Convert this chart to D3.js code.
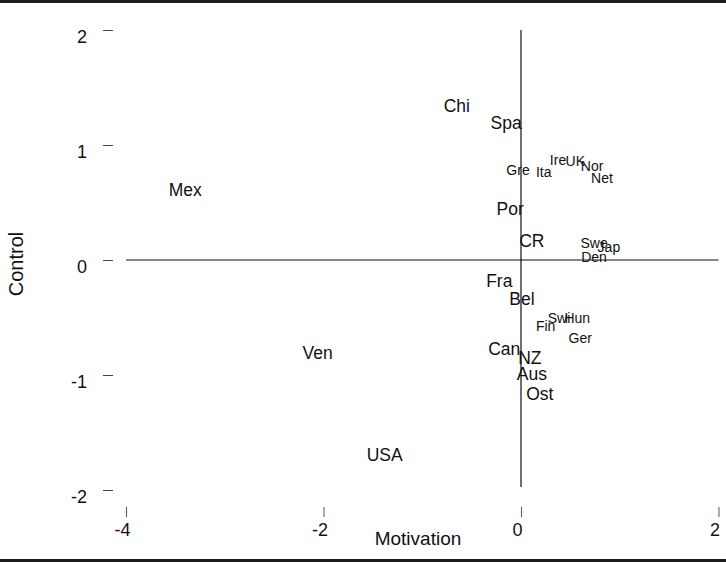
<!DOCTYPE html>
<html>
<head>
<meta charset="utf-8">
<script src="https://cdn.jsdelivr.net/npm/d3@7"></script>
<style>
  html, body { margin: 0; padding: 0; background: #fff; }
  svg { display: block; font-family: "Liberation Sans", Arial, sans-serif; }
</style>
</head>
<body>
<svg id="chart" width="726" height="562"></svg>
<script>
// country codes and their scores
var countries  = ["Chi", "Spa", "Gre", "Ita", "Ire", "UK", "Nor", "Net", "Mex", "Por", "CR", "Swe", "Jap", "Den",
                  "Fra", "Bel", "Swi", "Hun", "Fin", "Ger", "Can", "NZ", "Aus", "Ost", "Ven", "USA"];
var motivation = [-0.65, -0.15, -0.03, 0.23, 0.375, 0.55, 0.72, 0.82, -3.40, -0.11, 0.11, 0.74, 0.89, 0.74,
                  -0.22, 0.01, 0.385, 0.57, 0.25, 0.60, -0.17, 0.09, 0.11, 0.19, -2.06, -1.38];
var control    = [1.34, 1.19, 0.78, 0.765, 0.87, 0.86, 0.82, 0.71, 0.61, 0.45, 0.17, 0.15, 0.11, 0.03,
                  -0.18, -0.34, -0.50, -0.50, -0.57, -0.68, -0.77, -0.85, -0.99, -1.16, -0.81, -1.69];
// labels printed in the smaller type
var smallLabels = ["Gre", "Ita", "Ire", "UK", "Nor", "Net", "Swe", "Jap", "Den", "Swi", "Hun", "Fin", "Ger"];

var xTicks = [-4, -2, 0, 2];
var yTicks = [2, 1, 0, -1, -2];

var svg = d3.select("#chart"),
    W = 726, H = 562;

var x = d3.scaleLinear().domain([-4, 2]).range([126, 718.5]),
    y = d3.scaleLinear().domain([-2, 2]).range([490, 30]);

function plain(d) { return String(d); }

// frame lines top and bottom
svg.append("rect").attr("x", 0).attr("y", 0).attr("width", W).attr("height", 3).attr("fill", "#1c1c1c");
svg.append("rect").attr("x", 0).attr("y", H - 3).attr("width", W).attr("height", 3).attr("fill", "#1c1c1c");

// axes through the origin
svg.append("line")
  .attr("x1", x(-4)).attr("x2", x(2))
  .attr("y1", y(0)).attr("y2", y(0))
  .attr("stroke", "#111").attr("stroke-width", 1.2);
svg.append("line")
  .attr("x1", x(0)).attr("x2", x(0))
  .attr("y1", y(2)).attr("y2", y(-2) - 3)
  .attr("stroke", "#111").attr("stroke-width", 1.2);

// left ticks
var yAxis = svg.append("g")
  .attr("transform", "translate(113,0)")
  .call(d3.axisLeft(y).tickValues(yTicks).tickSize(10).tickPadding(16).tickFormat(plain));
yAxis.select(".domain").remove();
yAxis.selectAll(".tick line").attr("stroke", "#444");
yAxis.selectAll("text")
  .attr("dy", "0.72em")
  .attr("fill", "#111")
  .style("font-size", "18px");

// bottom ticks
var xAxis = svg.append("g")
  .attr("transform", "translate(0,507)")
  .call(d3.axisBottom(x).tickValues(xTicks).tickSize(10).tickPadding(6).tickFormat(plain));
xAxis.select(".domain").remove();
xAxis.selectAll(".tick line").attr("stroke", "#555");
xAxis.selectAll("text")
  .attr("dx", -4)
  .attr("fill", "#111")
  .style("font-size", "18px");

// axis titles
svg.append("text")
  .attr("x", 418).attr("y", 545)
  .attr("text-anchor", "middle")
  .attr("fill", "#111")
  .style("font-size", "19px")
  .text("Motivation");
svg.append("text")
  .attr("transform", "translate(23,264) rotate(-90)")
  .attr("text-anchor", "middle")
  .attr("fill", "#111")
  .style("font-size", "20px")
  .text("Control");

// country labels
var points = countries.map(function(c, i) {
  return {name: c, mx: motivation[i], ct: control[i]};
});

svg.append("g")
  .selectAll("text")
  .data(points)
  .enter()
  .append("text")
    .attr("x", function(d) { return x(d.mx); })
    .attr("y", function(d) { return y(d.ct); })
    .attr("dy", "0.36em")
    .attr("text-anchor", "middle")
    .attr("fill", "#111")
    .style("font-size", function(d) { return smallLabels.indexOf(d.name) != -1 ? "14px" : "17.5px"; })
    .text(function(d) { return d.name; });
</script>
</body>
</html>
